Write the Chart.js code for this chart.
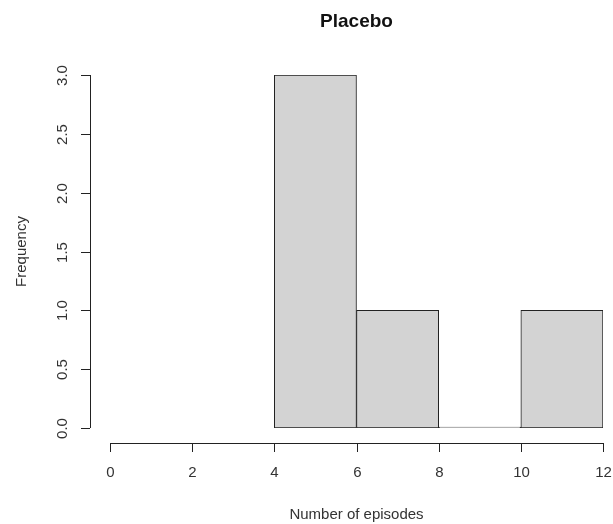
<html>
<head>
    <script src="https://cdn.jsdelivr.net/npm/chart.js@4.2.0/dist/chart.umd.min.js"></script>
    <style>
        body { margin: 0; background: #fff; }
    </style>
</head>
<body>
<canvas id="myChart" width="613" height="524"></canvas>
<script>
// Histogram data (bin midpoints and counts)
const binMids = [5, 7, 9, 11];
const counts = [3, 1, 0, 1];
const xTicks = [0, 2, 4, 6, 8, 10, 12];
const yTicks = [0, 0.5, 1, 1.5, 2, 2.5, 3];
const titleText = "Placebo";
const xTitle = "Number of episodes";
const yTitle = "Frequency";

// R-style detached axes drawn from the chart scales
const rAxes = {
    id: "rAxes",
    afterDraw(chart) {
        const c = chart.ctx;
        const xs = chart.scales.x;
        const ys = chart.scales.y;
        const area = chart.chartArea;
        const axisY = area.bottom + 15;
        const axisX = area.left - 20;
        c.save();
        c.strokeStyle = "#222";
        c.lineWidth = 1;
        c.fillStyle = "#333";
        c.font = "15px 'Liberation Sans', Arial, sans-serif";

        // x axis
        c.beginPath();
        c.moveTo(xs.getPixelForValue(xTicks[0]), axisY + 0.5);
        c.lineTo(xs.getPixelForValue(xTicks[xTicks.length - 1]), axisY + 0.5);
        c.stroke();
        c.textAlign = "center";
        c.textBaseline = "middle";
        xTicks.forEach(v => {
            const px = Math.round(xs.getPixelForValue(v)) + 0.5;
            c.beginPath();
            c.moveTo(px, axisY);
            c.lineTo(px, axisY + 9);
            c.stroke();
            c.fillText(String(v), px, axisY + 30);
        });

        // y axis
        c.beginPath();
        c.moveTo(axisX + 0.5, ys.getPixelForValue(yTicks[0]));
        c.lineTo(axisX + 0.5, ys.getPixelForValue(yTicks[yTicks.length - 1]));
        c.stroke();
        yTicks.forEach(v => {
            const py = Math.round(ys.getPixelForValue(v)) + 0.5;
            c.beginPath();
            c.moveTo(axisX, py);
            c.lineTo(axisX - 9, py);
            c.stroke();
            c.save();
            c.translate(axisX - 27, py);
            c.rotate(-Math.PI / 2);
            c.fillText(v.toFixed(1), 0, 0);
            c.restore();
        });

        // titles
        const cx = (axisX + area.right + 20) / 2;
        c.fillStyle = "#111";
        c.font = "bold 19px 'Liberation Sans', Arial, sans-serif";
        c.fillText(titleText, cx, 22);
        c.fillStyle = "#333";
        c.font = "15px 'Liberation Sans', Arial, sans-serif";
        c.fillText(xTitle, cx, 515);
        c.save();
        c.translate(22, (area.top + area.bottom) / 2);
        c.rotate(-Math.PI / 2);
        c.fillText(yTitle, 0, 0);
        c.restore();
        c.restore();
    }
};

const ctx = document.getElementById("myChart").getContext("2d");
const chart = new Chart(ctx, {
    type: "bar",
    data: {
        datasets: [{
            data: binMids.map((m, i) => ({ x: m, y: counts[i] })),
            backgroundColor: "#d3d3d3",
            borderColor: "#222",
            borderWidth: 1,
            borderSkipped: false,
            barPercentage: 1,
            categoryPercentage: 1,
            minBarLength: 1
        }]
    },
    options: {
        responsive: false,
        animation: false,
        layout: { padding: { left: 110, right: 10, top: 75, bottom: 96 } },
        plugins: { legend: { display: false }, tooltip: { enabled: false } },
        scales: {
            x: { type: "linear", min: 0, max: 12, offset: false, display: false },
            y: { min: 0, max: 3, display: false }
        }
    },
    plugins: [rAxes]
});
</script>
</body>
</html>
